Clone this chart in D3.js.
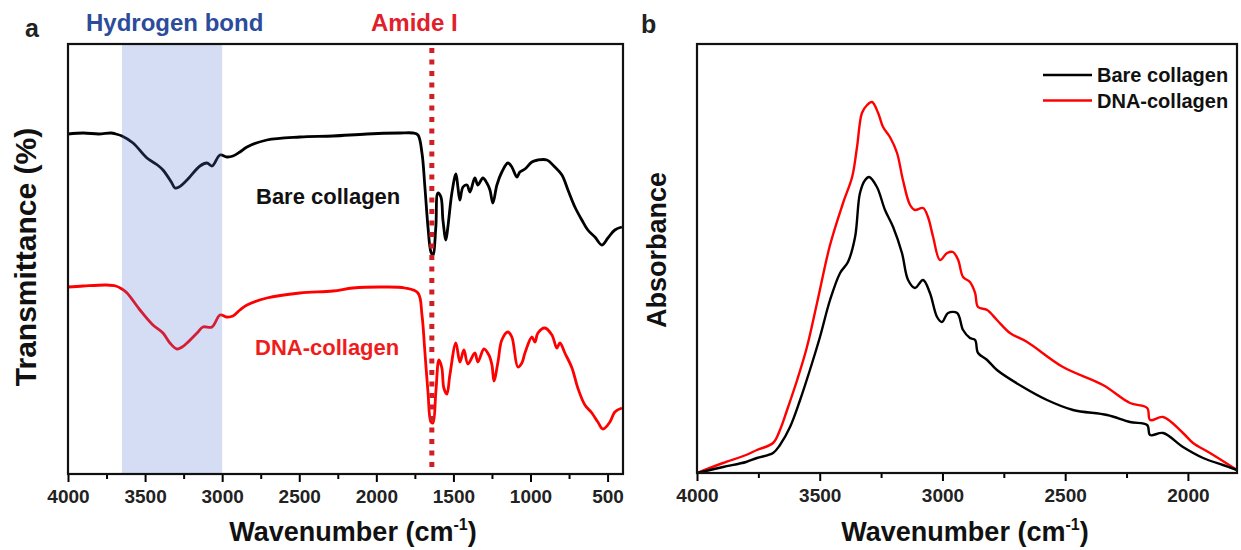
<!DOCTYPE html>
<html>
<head>
<meta charset="utf-8">
<script src="https://cdn.jsdelivr.net/npm/d3@7"></script>
<style>
  body { margin: 0; background: #fff; }
  svg { display: block; font-family: "Liberation Sans", Arial, sans-serif; font-weight: bold; }
</style>
</head>
<body>
<svg id="chart" width="1241" height="550"></svg>
<script>
// FTIR transmittance (panel a), arbitrary units
const ftirBareWn = [4000,3900,3800,3720,3690,3650,3578,3488,3420,3384,3330,3306,3280,3228,3144,3099,3066,3014,2969,2930,2885,2839,2710,2496,2282,2061,1847,1763,1730,1704,1685,1665,1646,1633,1614,1601,1581,1568,1549,1536,1510,1484,1471,1458,1438,1412,1393,1361,1341,1309,1283,1263,1244,1218,1186,1147,1121,1088,1069,1036,991,952,894,842,796,757,712,667,628,582,537,498,453,407];
const ftirBareT  = [340,341,340,341,340,338,331,316,309,304,292,286,287,294,308,311,308,319,317,318,322,327,334,337,338,340,341,341,339,321,287,247,222,219,247,281,277,254,234,247,281,300,287,274,287,289,282,296,289,296,291,284,271,289,302,311,307,297,302,305,312,314,314,307,299,284,267,254,244,237,229,236,244,247];

const ftirDnaWn = [4000,3900,3750,3690,3650,3617,3533,3449,3384,3339,3293,3260,3228,3163,3125,3066,3014,2969,2930,2885,2839,2710,2496,2282,2152,1957,1815,1730,1704,1685,1665,1646,1633,1614,1594,1575,1562,1542,1523,1484,1458,1432,1406,1361,1341,1302,1270,1250,1237,1211,1186,1147,1121,1082,1056,1036,991,971,952,907,861,829,809,777,731,693,647,602,563,530,485,453,407];
const ftirDnaT  = [187,188,189,188,185,181,164,149,141,131,125,127,131,141,147,147,159,157,158,164,169,176,181,183,186,187,186,181,159,122,82,52,51,82,114,106,86,80,99,131,112,124,110,121,112,125,119,109,93,112,134,142,137,107,111,121,137,132,141,146,139,126,131,121,106,86,69,61,52,45,52,62,66];

// Absorbance (panel b), arbitrary units
const absBareWn = [4000,3894,3800,3756,3690,3662,3621,3580,3540,3499,3458,3417,3385,3356,3336,3315,3299,3267,3234,3201,3165,3140,3112,3079,3051,3022,3002,2977,2940,2916,2888,2867,2855,2818,2778,2672,2574,2468,2329,2236,2166,2154,2101,2020,1938,1857,1800];
const absBare   = [0,6,11,15,20,28,46,73,103,136,173,200,211,236,280,293,296,286,263,246,220,193,185,193,180,156,151,160,160,143,135,133,120,113,103,86,73,63,58,51,48,38,40,26,15,8,3];

const absDnaWn = [4000,3894,3800,3756,3690,3662,3633,3592,3552,3511,3458,3405,3368,3348,3328,3307,3287,3262,3242,3214,3185,3161,3132,3112,3079,3059,3038,3010,2981,2957,2936,2916,2888,2867,2855,2818,2778,2725,2655,2509,2346,2236,2166,2154,2101,2020,1979,1910,1800];
const absDna   = [0,10,18,23,30,43,63,93,126,170,228,270,296,326,360,368,371,360,346,336,320,293,268,263,265,256,236,213,220,221,213,196,191,180,166,163,153,140,131,106,88,70,65,53,56,40,30,20,3];

const seriesNames = ["Bare collagen", "DNA-collagen"];
const seriesColors = ["#000000", "#ff0000"];

const hbondRange = [3650, 3000];
const amideI = 1640;

const xTicksA = [4000,3500,3000,2500,2000,1500,1000,500];
const xTicksB = [4000,3500,3000,2500,2000];

let svg = d3.select("#chart");

const zip = (xs, ys) => xs.map((x,i)=>[x, ys[i]]);

// ---------- PANEL A ----------
let pa = {left:68, top:44, right:623, bottom:474};
let xA = d3.scaleLinear().domain([4000,400]).range([pa.left, pa.right]);
let yA = d3.scaleLinear().domain([0,430]).range([pa.bottom, pa.top]);

let lineA = d3.line().x(d=>xA(d[0])).y(d=>yA(d[1])).curve(d3.curveCatmullRom.alpha(0.5));

let gA = svg.append("g");

gA.append("path").datum(zip(ftirBareWn, ftirBareT))
  .attr("d", lineA).attr("fill","none").attr("stroke", seriesColors[0])
  .attr("stroke-width", 2.8).attr("stroke-linejoin","round");
gA.append("path").datum(zip(ftirDnaWn, ftirDnaT))
  .attr("d", lineA).attr("fill","none").attr("stroke", seriesColors[1])
  .attr("stroke-width", 2.8).attr("stroke-linejoin","round");

// hydrogen bond band (drawn over curves, translucent)
gA.append("rect")
  .attr("x", xA(hbondRange[0])).attr("width", xA(hbondRange[1]) - xA(hbondRange[0]))
  .attr("y", pa.top).attr("height", pa.bottom - pa.top)
  .attr("fill", "rgb(85,120,210)").attr("fill-opacity", 0.25);

// amide I marker
gA.append("line")
  .attr("x1", xA(amideI)).attr("x2", xA(amideI))
  .attr("y1", pa.top + 4).attr("y2", pa.bottom - 3)
  .attr("stroke", "#d21f26").attr("stroke-width", 5)
  .attr("stroke-dasharray", "5,6.5");

// axes
gA.append("g").attr("transform", `translate(0,${pa.bottom})`)
  .call(d3.axisBottom(xA).tickValues(d3.range(3750, 400, -500)).tickSize(5).tickFormat(""))
  .call(g=>g.select(".domain").remove())
  .selectAll("line").attr("stroke-width", 2);
let axA = gA.append("g").attr("transform", `translate(0,${pa.bottom})`)
  .call(d3.axisBottom(xA).tickValues(xTicksA).tickSize(8).tickPadding(8).tickFormat(d3.format("d")));
axA.select(".domain").remove();
axA.selectAll("line").attr("stroke-width", 2);
axA.selectAll("text").attr("font-size", 19).attr("font-family", "Liberation Sans, Arial").attr("font-weight","bold").attr("fill","#222");

gA.append("rect").attr("x", pa.left).attr("y", pa.top)
  .attr("width", pa.right-pa.left).attr("height", pa.bottom-pa.top)
  .attr("fill","none").attr("stroke","#111").attr("stroke-width",2.2);

// labels
gA.append("text").attr("x", 256).attr("y", 204).attr("font-size", 22).attr("fill","#111").text(seriesNames[0]);
gA.append("text").attr("x", 255).attr("y", 355).attr("font-size", 22).attr("fill","#f01c1c").text(seriesNames[1]);

svg.append("text").attr("x", 25).attr("y", 37).attr("font-size", 25).attr("fill","#222").text("a");
svg.append("text").attr("x", 86).attr("y", 31).attr("font-size", 24).attr("fill","#2b4c9b").text("Hydrogen bond");
svg.append("text").attr("x", 371).attr("y", 31).attr("font-size", 24).attr("fill","#e0202a").text("Amide I");

svg.append("text").attr("transform", "translate(36,257) rotate(-90)")
  .attr("text-anchor","middle").attr("font-size", 30).attr("fill","#111").text("Transmittance (%)");

function xLabel(x) {
  let t = svg.append("text").attr("x", x).attr("y", 541).attr("text-anchor","middle")
    .attr("font-size", 27).attr("fill","#111");
  t.append("tspan").text("Wavenumber (cm");
  t.append("tspan").attr("font-size", 16).attr("dy", -11).text("-1");
  t.append("tspan").attr("dy", 11).text(")");
}
xLabel(353);

// ---------- PANEL B ----------
let pb = {left:697, top:44, right:1237, bottom:473};
let xB = d3.scaleLinear().domain([4000,1800]).range([pb.left, pb.right]);
let yB = d3.scaleLinear().domain([0,429]).range([pb.bottom, pb.top]);
let lineB = d3.line().x(d=>xB(d[0])).y(d=>yB(d[1])).curve(d3.curveCatmullRom.alpha(0.5));

let gB = svg.append("g");
gB.append("path").datum(zip(absDnaWn, absDna))
  .attr("d", lineB).attr("fill","none").attr("stroke", seriesColors[1]).attr("stroke-width", 2.4);
gB.append("path").datum(zip(absBareWn, absBare))
  .attr("d", lineB).attr("fill","none").attr("stroke", seriesColors[0]).attr("stroke-width", 2.4);

gB.append("g").attr("transform", `translate(0,${pb.bottom})`)
  .call(d3.axisBottom(xB).tickValues(d3.range(3750, 1800, -500)).tickSize(5).tickFormat(""))
  .call(g=>g.select(".domain").remove())
  .selectAll("line").attr("stroke-width", 2);
let axB = gB.append("g").attr("transform", `translate(0,${pb.bottom})`)
  .call(d3.axisBottom(xB).tickValues(xTicksB).tickSize(8).tickPadding(8).tickFormat(d3.format("d")));
axB.select(".domain").remove();
axB.selectAll("line").attr("stroke-width", 2);
axB.selectAll("text").attr("font-size", 19).attr("font-family", "Liberation Sans, Arial").attr("font-weight","bold").attr("fill","#222");

gB.append("rect").attr("x", pb.left).attr("y", pb.top)
  .attr("width", pb.right-pb.left).attr("height", pb.bottom-pb.top)
  .attr("fill","none").attr("stroke","#111").attr("stroke-width",2.2);

// legend
let legend = gB.selectAll(".legend").data(seriesNames).enter().append("g")
  .attr("transform", (d,i)=>`translate(1043,${75 + i*25.5})`);
legend.append("line").attr("x1",0).attr("x2",49).attr("stroke",(d,i)=>seriesColors[i]).attr("stroke-width",2.5);
legend.append("text").attr("x",54).attr("y",7).attr("font-size",20).attr("fill","#111").text(d=>d);

svg.append("text").attr("x", 641).attr("y", 33).attr("font-size", 25).attr("fill","#222").text("b");
svg.append("text").attr("transform", "translate(666,250) rotate(-90)")
  .attr("text-anchor","middle").attr("font-size", 27).attr("fill","#111").text("Absorbance");
xLabel(965);
</script>
</body>
</html>
